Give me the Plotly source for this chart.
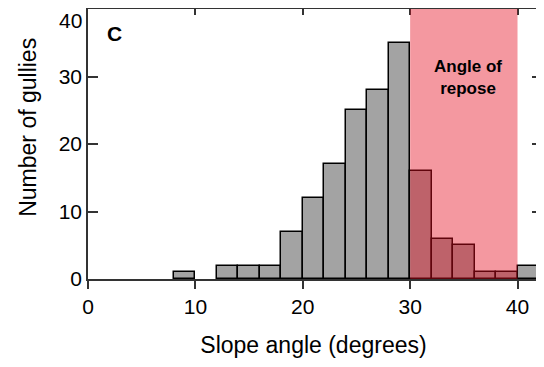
import plotly.graph_objects as go

bin_centers = [9, 13, 15, 17, 19, 21, 23, 25, 27, 29, 31, 33, 35, 37, 39, 41]
counts = [1, 2, 2, 2, 7, 12, 17, 25, 28, 35, 16, 6, 5, 1, 1, 2]
bin_width = 2
repose_range = [30, 40]
x_ticks = [0, 10, 20, 30, 40]
y_ticks = [0, 10, 20, 30, 40]
y_ticktext = ["0", "10", "20", "30", ""]   # top label placed separately (nudged down)
top_y_label = "40"

FONT = "Liberation Sans"

fig = go.Figure()
fig.add_trace(go.Bar(
    x=bin_centers, y=counts, width=[bin_width] * len(counts),
    marker=dict(color="#a3a3a3", line=dict(color="black", width=1.5)),
    showlegend=False,
))
fig.add_trace(go.Scatter(x=[None], y=[None], xaxis="x2", yaxis="y2", showlegend=False))

fig.add_shape(type="rect", xref="x", yref="y",
              x0=repose_range[0], x1=repose_range[1], y0=0, y1=40,
              fillcolor="rgba(228,10,28,0.42)", line=dict(width=0), layer="above")

fig.add_annotation(x=35.4, y=29.9, xref="x", yref="y", text="<b>Angle of<br>repose</b>",
                   showarrow=False, font=dict(size=17, color="black", family=FONT),
                   align="center")
fig.add_annotation(x=2.5, y=36.4, xref="x", yref="y", text="<b>C</b>",
                   showarrow=False, font=dict(size=21, color="black", family=FONT))
fig.add_annotation(x=0, y=40, xref="paper", yref="y", text=top_y_label,
                   xanchor="right", yanchor="middle", xshift=-5, yshift=-11, borderpad=0,
                   showarrow=False, font=dict(size=21, color="black", family=FONT))
fig.add_annotation(x=-0.133, y=22.4, xref="paper", yref="y", text="Number of gullies",
                   textangle=-90, xanchor="center", yanchor="middle",
                   showarrow=False, font=dict(size=23, color="black", family=FONT))

axis_font = dict(size=21, color="black", family=FONT)
fig.update_layout(
    width=536, height=359,
    margin=dict(l=80, r=5, t=1, b=88),
    plot_bgcolor="white", paper_bgcolor="white",
    bargap=0,
    font=dict(family=FONT, color="black"),
    xaxis=dict(range=[0, 42], tickvals=x_ticks, ticks="outside", ticklen=8, tickwidth=1.5,
               tickcolor="#333", showline=True, linecolor="#333", linewidth=1.5,
               showgrid=False, zeroline=False, tickfont=axis_font, ticklabelstandoff=0,
               title=dict(text="Slope angle (degrees)", font=dict(size=23, family=FONT), standoff=20)),
    xaxis2=dict(range=[0, 42], overlaying="x", side="top", tickvals=x_ticks, ticks="inside",
                ticklen=6, tickwidth=1.5, tickcolor="#333", showline=True, linecolor="#333",
                linewidth=1.5, showticklabels=False, showgrid=False, zeroline=False),
    yaxis=dict(range=[0, 40], tickvals=y_ticks, ticktext=y_ticktext, ticks="inside", ticklen=10,
               tickwidth=1.5, tickcolor="#333", showline=True, linecolor="#333", linewidth=1.5,
               showgrid=False, zeroline=False, tickfont=axis_font),
    yaxis2=dict(range=[0, 40], overlaying="y", side="right", tickvals=y_ticks, ticks="inside",
                ticklen=7, tickwidth=1.5, tickcolor="#333", showline=False,
                showticklabels=False, showgrid=False, zeroline=False),
)
fig.write_html("out.html")
